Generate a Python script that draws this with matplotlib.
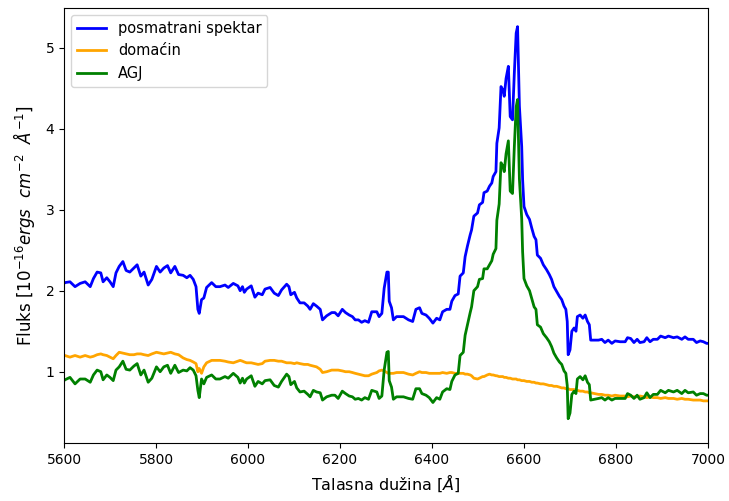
import numpy as np
import matplotlib
matplotlib.use('Agg')
from matplotlib import pyplot as plt

# wavelength grid [A]
wave = [5600, 5602, 5613, 5624, 5635, 5646, 5657, 5664, 5672, 5680, 5685, 5693, 5700, 5707,
        5713, 5720, 5728, 5735, 5743, 5752, 5759, 5767, 5774, 5783, 5791, 5801, 5809, 5817,
        5825, 5832, 5841, 5849, 5859, 5867, 5874, 5881, 5887, 5891, 5894, 5899, 5904, 5910,
        5921, 5930, 5939, 5950, 5957, 5968, 5978, 5983, 5988, 5992, 5997, 6007, 6015, 6022,
        6031, 6037, 6048, 6057, 6066, 6073, 6084, 6089, 6093, 6101, 6106, 6113, 6122, 6130,
        6135, 6142, 6149, 6157, 6162, 6171, 6182, 6189, 6196, 6205, 6212, 6220, 6227, 6233,
        6240, 6247, 6254, 6262, 6269, 6280, 6285, 6291, 6296, 6302, 6305, 6307, 6312, 6316,
        6323, 6338, 6349, 6358, 6365, 6373, 6378, 6387, 6394, 6402, 6410, 6417, 6423, 6432,
        6439, 6443, 6450, 6457, 6461, 6468, 6472, 6477, 6483, 6486, 6491, 6499, 6503, 6510,
        6513, 6520, 6525, 6530, 6533, 6539, 6541, 6546, 6550, 6554, 6557, 6561, 6566, 6570,
        6575, 6579, 6583, 6586, 6590, 6595, 6597, 6600, 6606, 6612, 6617, 6622, 6626, 6629,
        6636, 6642, 6649, 6655, 6660, 6665, 6671, 6677, 6682, 6687, 6691, 6694, 6696, 6700,
        6704, 6709, 6713, 6716, 6722, 6728, 6733, 6738, 6742, 6745, 6754, 6762, 6769, 6776,
        6783, 6791, 6798, 6809, 6820, 6825, 6832, 6839, 6846, 6852, 6861, 6867, 6874, 6881,
        6890, 6897, 6907, 6914, 6925, 6933, 6943, 6950, 6957, 6968, 6975, 6983, 6990, 6997,
        7000]

# observed spectrum
observed = [2.09, 2.10, 2.11, 2.05, 2.09, 2.11, 2.05, 2.15, 2.23, 2.22, 2.11, 2.16, 2.11, 2.05,
            2.22, 2.30, 2.36, 2.25, 2.23, 2.28, 2.32, 2.18, 2.23, 2.07, 2.14, 2.30, 2.23, 2.28,
            2.31, 2.22, 2.30, 2.20, 2.19, 2.16, 2.19, 2.14, 2.05, 1.77, 1.72, 1.89, 1.91, 2.04,
            2.10, 2.05, 2.05, 2.07, 2.04, 2.09, 2.06, 2.00, 2.05, 1.98, 2.02, 2.06, 1.92, 1.97,
            1.95, 2.02, 2.04, 1.97, 1.94, 2.01, 2.08, 2.05, 1.95, 1.98, 1.91, 1.85, 1.85, 1.81,
            1.77, 1.84, 1.81, 1.77, 1.64, 1.69, 1.73, 1.73, 1.69, 1.77, 1.73, 1.70, 1.68, 1.64,
            1.64, 1.61, 1.63, 1.61, 1.74, 1.74, 1.68, 1.72, 2.03, 2.23, 2.23, 1.87, 1.79, 1.64,
            1.68, 1.68, 1.64, 1.62, 1.77, 1.79, 1.72, 1.70, 1.66, 1.60, 1.66, 1.64, 1.74, 1.77,
            1.77, 1.87, 1.94, 1.96, 2.18, 2.22, 2.42, 2.55, 2.69, 2.75, 2.92, 2.96, 3.06, 3.09,
            3.21, 3.23, 3.29, 3.33, 3.41, 3.47, 3.82, 4.01, 4.52, 4.48, 4.40, 4.62, 4.77, 4.15,
            4.11, 4.69, 5.18, 5.26, 4.28, 3.78, 3.37, 3.04, 2.94, 2.88, 2.77, 2.67, 2.63, 2.44,
            2.40, 2.32, 2.26, 2.20, 2.14, 2.05, 1.99, 1.93, 1.89, 1.81, 1.77, 1.62, 1.21, 1.27,
            1.50, 1.54, 1.50, 1.68, 1.70, 1.66, 1.70, 1.62, 1.58, 1.39, 1.39, 1.39, 1.40, 1.36,
            1.39, 1.35, 1.38, 1.37, 1.37, 1.42, 1.41, 1.36, 1.40, 1.36, 1.37, 1.42, 1.37, 1.40,
            1.40, 1.44, 1.42, 1.44, 1.42, 1.43, 1.40, 1.43, 1.40, 1.40, 1.36, 1.38, 1.37, 1.35,
            1.35]

# host galaxy template
host = [1.20, 1.20, 1.18, 1.20, 1.18, 1.20, 1.18, 1.19, 1.21, 1.22, 1.21, 1.20, 1.18, 1.16,
        1.20, 1.24, 1.23, 1.22, 1.21, 1.21, 1.22, 1.22, 1.21, 1.20, 1.22, 1.24, 1.23, 1.22,
        1.23, 1.24, 1.22, 1.21, 1.17, 1.15, 1.14, 1.12, 1.10, 1.00, 1.04, 0.98, 1.06, 1.11,
        1.14, 1.14, 1.14, 1.13, 1.12, 1.11, 1.13, 1.14, 1.13, 1.12, 1.11, 1.11, 1.10, 1.09,
        1.10, 1.13, 1.14, 1.14, 1.13, 1.13, 1.11, 1.11, 1.11, 1.10, 1.11, 1.10, 1.09, 1.09,
        1.08, 1.07, 1.06, 1.03, 0.99, 1.00, 1.02, 1.02, 1.02, 1.01, 1.00, 1.00, 0.99, 0.98,
        0.97, 0.96, 0.95, 0.95, 0.97, 0.99, 1.01, 1.02, 1.01, 0.99, 0.98, 0.98, 0.98, 0.98,
        0.99, 0.99, 0.97, 0.96, 0.98, 1.00, 0.99, 0.99, 0.98, 0.98, 0.98, 0.98, 0.99, 0.98,
        0.99, 0.99, 0.98, 0.98, 0.98, 0.98, 0.97, 0.97, 0.96, 0.95, 0.92, 0.91, 0.92, 0.94,
        0.94, 0.96, 0.97, 0.96, 0.96, 0.95, 0.95, 0.94, 0.94, 0.94, 0.93, 0.93, 0.92, 0.92,
        0.91, 0.91, 0.91, 0.90, 0.90, 0.89, 0.89, 0.89, 0.88, 0.88, 0.87, 0.87, 0.86, 0.86,
        0.85, 0.85, 0.84, 0.83, 0.83, 0.82, 0.82, 0.81, 0.80, 0.80, 0.79, 0.79, 0.79, 0.78,
        0.78, 0.78, 0.77, 0.77, 0.76, 0.76, 0.75, 0.75, 0.74, 0.74, 0.73, 0.72, 0.72, 0.71,
        0.71, 0.70, 0.71, 0.70, 0.70, 0.69, 0.70, 0.69, 0.69, 0.70, 0.69, 0.68, 0.69, 0.68,
        0.68, 0.67, 0.68, 0.67, 0.67, 0.66, 0.67, 0.66, 0.66, 0.65, 0.65, 0.65, 0.64, 0.64,
        0.64]

wave = np.array(wave)
observed = np.array(observed)
host = np.array(host)
agn = observed - host  # AGN component = observed - host

fig = plt.figure(figsize=(7.29, 5.01), dpi=100)
ax = fig.add_axes([64/729, 58/501, 644/729, 435/501])

ax.plot(wave, observed, color='blue', lw=2, label='posmatrani spektar')
ax.plot(wave, host, color='orange', lw=2, label='domaćin')
ax.plot(wave, agn, color='green', lw=2, label='AGJ')

ax.set_xlim(5600, 7000)
ax.set_ylim(0.12, 5.49)
ax.set_xticks(np.arange(5600, 7001, 200))
ax.set_yticks([1, 2, 3, 4, 5])
ax.set_xlabel(r'Talasna dužina [$\AA$]', fontsize=11.5)
ax.set_ylabel(r'Fluks [$10^{-16}ergs\ \ cm^{-2}\ \ \AA^{-1}$]', fontsize=12, labelpad=6)
ax.legend(loc='upper left', fontsize=10.5)

fig.savefig('out.png', dpi=100)
